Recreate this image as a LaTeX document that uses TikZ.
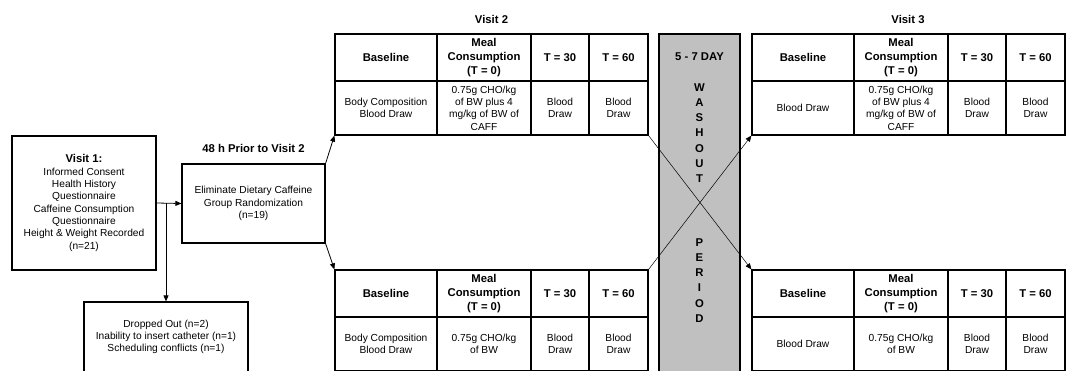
\documentclass[tikz,border=0pt]{standalone}
\usepackage{fontspec}
\setmainfont{Liberation Sans}
\usetikzlibrary{arrows.meta,positioning}
\pgfdeclarelayer{backlayer}
\pgfdeclarelayer{edgelayer}
\pgfdeclarelayer{nodelayer}
\pgfsetlayers{backlayer,edgelayer,nodelayer,main}
\definecolor{washgray}{RGB}{192,192,192}
\tikzstyle{block}=[rectangle, draw=black, line width=1.2pt, inner sep=0pt, align=center, font=\fontsize{10.2}{12.3}\selectfont]
\tikzstyle{hcell}=[block, minimum height=47pt, font=\fontsize{11.3}{14}\selectfont\bfseries]
\tikzstyle{bcell}=[block, minimum height=54pt]
\tikzstyle{title}=[inner sep=0pt, align=center, font=\fontsize{11.3}{15.2}\selectfont\bfseries]
\tikzstyle{washout}=[rectangle, fill=washgray, draw=black, line width=1.2pt, minimum width=81pt, minimum height=345pt]
\tikzstyle{arrow}=[-{Triangle[length=6pt,width=5pt]}, draw=black, line width=0.8pt]
\tikzstyle{cross}=[-{Triangle[length=6pt,width=5pt]}, draw=black, line width=0.5pt]

\begin{document}
\begin{tikzpicture}[x=1pt, y=-1pt]
    \useasboundingbox (0,0) rectangle (1070,370);
    \begin{pgfonlayer}{backlayer}
        \node [style=washout] (wash) at (699.5, 206.5) {};
    \end{pgfonlayer}
    \begin{pgfonlayer}{nodelayer}
        \node [style=block, minimum width=144pt, minimum height=134pt] (visit1) at (84, 203) {{\fontsize{11.3}{12.3}\selectfont\bfseries Visit 1:}\\Informed Consent\\Health History\\Questionnaire\\Caffeine Consumption\\Questionnaire\\Height \& Weight Recorded\\(n=21)};
        \node [style=block, minimum width=143pt, minimum height=79pt] (elim) at (253.5, 203.5) {Eliminate Dietary Caffeine\\Group Randomization\\(n=19)};
        \node [style=block, minimum width=164pt, minimum height=70pt] (drop) at (166, 337) {Dropped Out (n=2)\\Inability to insert catheter (n=1)\\Scheduling conflicts (n=1)};
        \node [style=title] (prior) at (253.5, 148) {48 h Prior to Visit 2};
        \node [style=title] (visit2) at (491.5, 19) {Visit 2};
        \node [style=title] (visit3) at (908, 19) {Visit 3};
        \node [style=title] (days) at (699.5, 57) {5 - 7 DAY};
        \node [style=title] (washtxt) at (699.5, 133) {W\\A\\S\\H\\O\\U\\T};
        \node [style=title] (periodtxt) at (699.5, 280.5) {P\\E\\R\\I\\O\\D};
        % header rows, the same in all four tables
        \foreach \t/\x/\y in {V2up/335/34, V2dn/335/270, V3up/752/34, V3dn/752/270} {
            \node [style=hcell, minimum width=102pt] (\t-h1) at (\x+51, \y+23.5) {Baseline};
            \node [style=hcell, minimum width=94pt] (\t-h2) at (\x+149, \y+23.5) {Meal\\Consumption\\(T = 0)};
            \node [style=hcell, minimum width=58pt] (\t-h3) at (\x+225, \y+23.5) {T = 30};
            \node [style=hcell, minimum width=59pt] (\t-h4) at (\x+283.5, \y+23.5) {T = 60};
        }
        \node [style=bcell, minimum width=102pt] (V2up-1) at (386, 108) {Body Composition\\Blood Draw};
        \node [style=bcell, minimum width=94pt] (V2up-2) at (484, 108) {0.75g CHO/kg\\of BW plus 4\\mg/kg of BW of\\CAFF};
        \node [style=bcell, minimum width=58pt] (V2up-3) at (560, 108) {Blood\\Draw};
        \node [style=bcell, minimum width=59pt] (V2up-4) at (618.5, 108) {Blood\\Draw};
        \node [style=bcell, minimum width=102pt] (V2dn-1) at (386, 344) {Body Composition\\Blood Draw};
        \node [style=bcell, minimum width=94pt] (V2dn-2) at (484, 344) {0.75g CHO/kg\\of BW};
        \node [style=bcell, minimum width=58pt] (V2dn-3) at (560, 344) {Blood\\Draw};
        \node [style=bcell, minimum width=59pt] (V2dn-4) at (618.5, 344) {Blood\\Draw};
        \node [style=bcell, minimum width=102pt] (V3up-1) at (803, 108) {Blood Draw};
        \node [style=bcell, minimum width=94pt] (V3up-2) at (901, 108) {0.75g CHO/kg\\of BW plus 4\\mg/kg of BW of\\CAFF};
        \node [style=bcell, minimum width=58pt] (V3up-3) at (977, 108) {Blood\\Draw};
        \node [style=bcell, minimum width=59pt] (V3up-4) at (1035.5, 108) {Blood\\Draw};
        \node [style=bcell, minimum width=102pt] (V3dn-1) at (803, 344) {Blood Draw};
        \node [style=bcell, minimum width=94pt] (V3dn-2) at (901, 344) {0.75g CHO/kg\\of BW};
        \node [style=bcell, minimum width=58pt] (V3dn-3) at (977, 344) {Blood\\Draw};
        \node [style=bcell, minimum width=59pt] (V3dn-4) at (1035.5, 344) {Blood\\Draw};
    \end{pgfonlayer}
    \begin{pgfonlayer}{edgelayer}
        \draw [style=arrow] (visit1.east) -- (elim.west);
        \draw [style=arrow] (visit1.east -| drop.north) -- (drop.north);
        \draw [style=arrow] (elim.north east) -- (V2up-1.south west);
        \draw [style=arrow] (elim.south east) -- (V2dn-h1.north west);
        \draw [style=cross] (V2up-4.south east) -- (V3dn-h1.north west);
        \draw [style=cross] (V2dn-h4.north east) -- (V3up-1.south west);
    \end{pgfonlayer}
\end{tikzpicture}
\end{document}
